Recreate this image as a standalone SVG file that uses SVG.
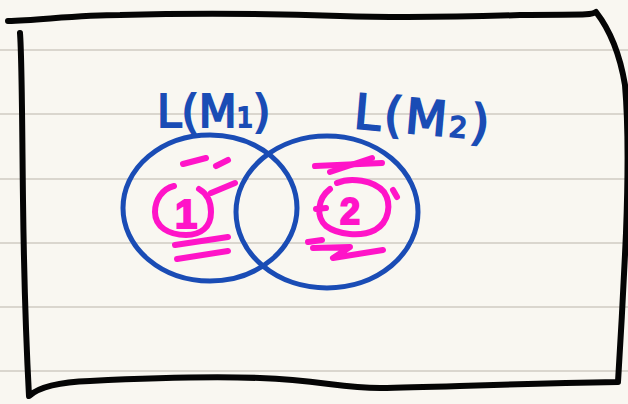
<svg xmlns="http://www.w3.org/2000/svg" width="628" height="404" viewBox="0 0 628 404">
<style>
.rule{stroke:#cfcbc2;stroke-width:1.5}
.ink{fill:none;stroke-linecap:round;stroke-linejoin:round}
.blk{stroke:#050505;stroke-width:6}
.blu{stroke:#1a4cb5;stroke-width:5}
.pnk{stroke:#ff14c8;stroke-width:6}
.lbl{font-family:"DejaVu Sans",sans-serif;fill:#1a4cb5;stroke:#1a4cb5;stroke-width:2}
.num{font-family:"Liberation Sans",sans-serif;font-weight:bold;fill:#ff14c8;stroke:#ff14c8;stroke-width:2}
</style>
<rect width="628" height="404" fill="#f9f7f1"/>
<g id="paper">
<line class="rule" x1="0" y1="50" x2="628" y2="50"/>
<line class="rule" x1="0" y1="114" x2="628" y2="114"/>
<line class="rule" x1="0" y1="179" x2="628" y2="179"/>
<line class="rule" x1="0" y1="243" x2="628" y2="243"/>
<line class="rule" x1="0" y1="307" x2="628" y2="307"/>
<line class="rule" x1="0" y1="371" x2="628" y2="371"/>
</g>
<g id="frame">
<path class="ink blk" d="M20,33 C22,60 22,120 23,200 C24,280 26,340 29,396 C40,386 60,382 90,381 C150,378 200,376 260,378 C320,380 340,388 380,388 C440,387 500,384 618,382 C620,350 623,300 626,233 C628,180 628,120 625,85 C620,55 610,30 596,12 C590,16 575,14 520,15 C460,17 400,18 340,16 C280,14 200,13 120,15 C80,15 40,20 8,21"/>
</g>
<g id="set-m1">
<ellipse class="ink blu" cx="210" cy="208" rx="87" ry="73"/>
<text class="lbl" x="157" y="127" font-size="44">L(M<tspan font-size="26">1</tspan>)</text>
</g>
<g id="set-m2">
<ellipse class="ink blu" cx="327" cy="212" rx="91" ry="76"/>
<text class="lbl" x="353" y="128" font-size="48" letter-spacing="3" transform="rotate(5 353 128)">L(M<tspan font-size="28">2</tspan>)</text>
</g>
<g id="region-1">
<path class="ink pnk" d="M183,164 L206,158"/>
<path class="ink pnk" d="M216,166 L228,160"/>
<path class="ink pnk" d="M211,193 L235,183"/>
<path class="ink pnk" d="M174,186 C162,189 155,200 155,212 C155,227 169,235 186,235 C201,235 211,227 211,212 C211,201 206,193 199,189"/>
<text class="num" x="186" y="228" font-size="40" text-anchor="middle">1</text>
<path class="ink pnk" d="M175,245 L228,237"/>
<path class="ink pnk" d="M177,259 L228,251"/>
</g>
<g id="region-2">
<path class="ink pnk" d="M315,166 L382,163"/>
<path class="ink pnk" d="M330,172 L372,158"/>
<path class="ink pnk" d="M337,183 C350,177 374,180 384,192 C392,204 389,222 375,230 C361,237 338,235 326,226 C316,217 317,199 330,189"/>
<path class="ink pnk" d="M316,209 L326,208"/>
<path class="ink pnk" d="M393,190 L397,197"/>
<text class="num" x="350" y="224" font-size="36" text-anchor="middle">2</text>
<path class="ink pnk" d="M308,242 L322,240"/>
<path class="ink pnk" d="M313,248 L350,247 L333,258 L383,250"/>
</g>
</svg>
